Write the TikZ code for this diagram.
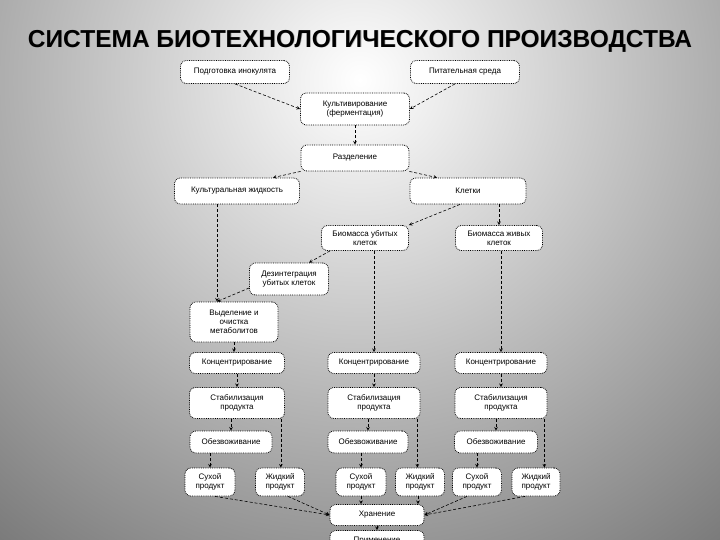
\documentclass[tikz,border=0pt]{standalone}
\usepackage{fontspec}
\setmainfont{Liberation Sans}
\usetikzlibrary{calc}

\tikzset{
  box/.style={draw=black,fill=white,densely dotted,line width=0.8pt,rounded corners=6pt,
    inner sep=1pt,align=center,font=\fontsize{8}{9}\selectfont},
  link/.style={densely dashed,line width=0.6pt,-stealth}
}

\begin{document}
\begin{tikzpicture}[x=1pt,y=-1pt]

    % фон с радиальной заливкой
    \useasboundingbox (0,0) rectangle (720,540);
    \clip (0,0) rectangle (720,540);
    \shade[inner color=white,outer color=black!55] (360,80) circle (620);

    % заголовок с тенью
    \node[text=black!30,font=\bfseries\fontsize{24.5}{26}\selectfont] at (360.8,41.8) {СИСТЕМА БИОТЕХНОЛОГИЧЕСКОГО ПРОИЗВОДСТВА};
    \node[font=\bfseries\fontsize{24.5}{26}\selectfont] (title) at (360,41) {СИСТЕМА БИОТЕХНОЛОГИЧЕСКОГО ПРОИЗВОДСТВА};

    % верхняя часть схемы
    \node[box,minimum width=109,minimum height=23] (prep) at (235,72) {Подготовка инокулята};
    \node[box,minimum width=109,minimum height=23] (pit) at (465,72) {Питательная среда};
    \node[box,minimum width=109,minimum height=32] (kult) at (355,109) {Культивирование\\(ферментация)};
    \node[box,minimum width=108,minimum height=26] (razd) at (355,158) {Разделение};
    \node[box,minimum width=125,minimum height=26] (kzh) at (237,191) {Культуральная жидкость};
    \node[box,minimum width=116,minimum height=26] (klet) at (468,191) {Клетки};
    \node[box,minimum width=87,minimum height=25] (bub) at (365,238) {Биомасса убитых\\клеток};
    \node[box,minimum width=87,minimum height=25] (bzh) at (499,238) {Биомасса живых\\клеток};
    \node[box,minimum width=79,minimum height=32] (dez) at (289,279) {Дезинтеграция\\убитых клеток};
    \node[box,minimum width=88,minimum height=40] (vyd) at (234,322) {Выделение и\\очистка\\метаболитов};

    % три ветви обработки
    \node[box,minimum width=95,minimum height=21] (konL) at (237,363) {Концентрирование};
    \node[box,minimum width=92,minimum height=21] (konM) at (374,363) {Концентрирование};
    \node[box,minimum width=92,minimum height=21] (konR) at (501,363) {Концентрирование};
    \node[box,minimum width=95,minimum height=31] (stabL) at (237,403) {Стабилизация\\продукта};
    \node[box,minimum width=92,minimum height=31] (stabM) at (374,403) {Стабилизация\\продукта};
    \node[box,minimum width=92,minimum height=31] (stabR) at (501,403) {Стабилизация\\продукта};
    \node[box,minimum width=82,minimum height=22] (obL) at (231,442) {Обезвоживание};
    \node[box,minimum width=80,minimum height=22] (obM) at (368,442) {Обезвоживание};
    \node[box,minimum width=83,minimum height=22] (obR) at (496,442) {Обезвоживание};
    \node[box,minimum width=50,minimum height=28] (suL) at (210,482) {Сухой\\продукт};
    \node[box,minimum width=49,minimum height=28] (zhL) at (280,482) {Жидкий\\продукт};
    \node[box,minimum width=50,minimum height=28] (suM) at (361,482) {Сухой\\продукт};
    \node[box,minimum width=49,minimum height=28] (zhM) at (420,482) {Жидкий\\продукт};
    \node[box,minimum width=49,minimum height=28] (suR) at (477,482) {Сухой\\продукт};
    \node[box,minimum width=48,minimum height=28] (zhR) at (536,482) {Жидкий\\продукт};
    \node[box,minimum width=94,minimum height=21] (hran) at (377,515) {Хранение};
    \node[box,minimum width=94,minimum height=21] (prim) at (377,541) {Применение};

    % связи верхней части
    \draw[link] (prep.south) -- (kult.west);
    \draw[link] ([xshift=-10]pit.south) -- (kult.east);
    \draw[link] (kult.south) -- (razd.north);
    \draw[link] (razd.south west) -- ([xshift=36]kzh.north);
    \draw[link] (razd.south east) -- ([xshift=-31]klet.north);
    \draw[link] ([xshift=-8]klet.south) -- (bub.north east);
    \draw[link] (bzh.north |- klet.south) -- (bzh.north);
    \draw[link] ([xshift=-17]vyd.north |- kzh.south) -- ([xshift=-17]vyd.north);
    \draw[link] ([xshift=-35]bub.south) -- ([xshift=20]dez.north);
    \draw[link] ([yshift=-9]dez.west) -- ([xshift=-17]vyd.north);
    \draw[link] (konM.north |- bub.south) -- (konM.north);
    \draw[link] (konR.north |- bzh.south) -- (konR.north);
    \draw[link] (vyd.south) -- (vyd.south |- konL.north);

    % связи в ветвях
    \foreach \col in {L,M,R} {
      \draw[link] (kon\col.south) -- (stab\col.north);
      \draw[link] (ob\col.north |- stab\col.south) -- (ob\col.north);
      \draw[link] (su\col.north |- ob\col.south) -- (su\col.north);
    }
    \draw[link] ([xshift=-4]stabL.south east) -- ([xshift=-4]stabL.south east |- zhL.north);
    \draw[link] ([xshift=-3]stabM.south east) -- ([xshift=-3]stabM.south east |- zhM.north);
    \draw[link] ([xshift=-3]stabR.south east) -- ([xshift=-3]stabR.south east |- zhR.north);

    % к хранению
    \draw[link] ([xshift=5]suL.south) -- (hran.west);
    \draw[link] ([xshift=8]zhL.south) -- (hran.west);
    \draw[link] (suM.south) -- (suM.south |- hran.north);
    \draw[link] ([xshift=-2]zhM.south) -- ([xshift=-2]zhM.south |- hran.north);
    \draw[link] ([xshift=-10]suR.south) -- (hran.east);
    \draw[link] ([xshift=-11]zhR.south) -- (hran.east);
    \draw[link] (hran.south) -- (prim.north);

\end{tikzpicture}
\end{document}
